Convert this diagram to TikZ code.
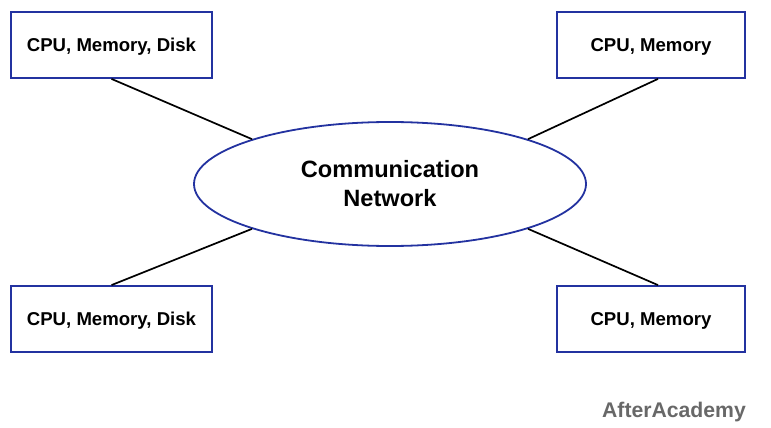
\documentclass[tikz,border=0pt]{standalone}
\usepackage{fontspec}
\setmainfont{Liberation Sans}
\usetikzlibrary{shapes.geometric}
\definecolor{boxblue}{HTML}{2332A0}
\definecolor{markgray}{HTML}{686868}
\begin{document}
\begin{tikzpicture}[x=1pt,y=-1pt,
    hostbox/.style={draw=boxblue, line width=1.8pt, minimum height=66pt, inner sep=0pt,
      text depth=0pt, font=\fontsize{18.6}{22}\selectfont\bfseries},
    netbubble/.style={ellipse, draw=boxblue, line width=1.8pt, minimum width=392pt,
      minimum height=124pt, inner sep=0pt, align=center,
      font=\fontsize{23.6}{29}\selectfont\bfseries},
    link/.style={line width=1.7pt}]
  \useasboundingbox (0,0) rectangle (771,428);

  % Network in the middle
  \node[netbubble] (net) at (390,184) {Communication\\Network};

  % Hosts in the four corners
  \node[hostbox, minimum width=201pt] (tl) at (111.5,45) {CPU, Memory, Disk};
  \node[hostbox, minimum width=188pt] (tr) at (651,45) {CPU, Memory};
  \node[hostbox, minimum width=201pt] (bl) at (111.5,319) {CPU, Memory, Disk};
  \node[hostbox, minimum width=188pt] (br) at (651,319) {CPU, Memory};

  % Draw links: each host connects to the network
  \draw[link] (tl.south) -- (net.162);
  \draw[link] ([xshift=7pt]tr.south) -- (net.18);
  \draw[link] (bl.north) -- (net.198);
  \draw[link] ([xshift=7pt]br.north) -- (net.342);

  % Watermark
  \node[text=markgray, font=\fontsize{21.2}{25}\selectfont\bfseries] (mark) at (674,412) {AfterAcademy};
\end{tikzpicture}
\end{document}
